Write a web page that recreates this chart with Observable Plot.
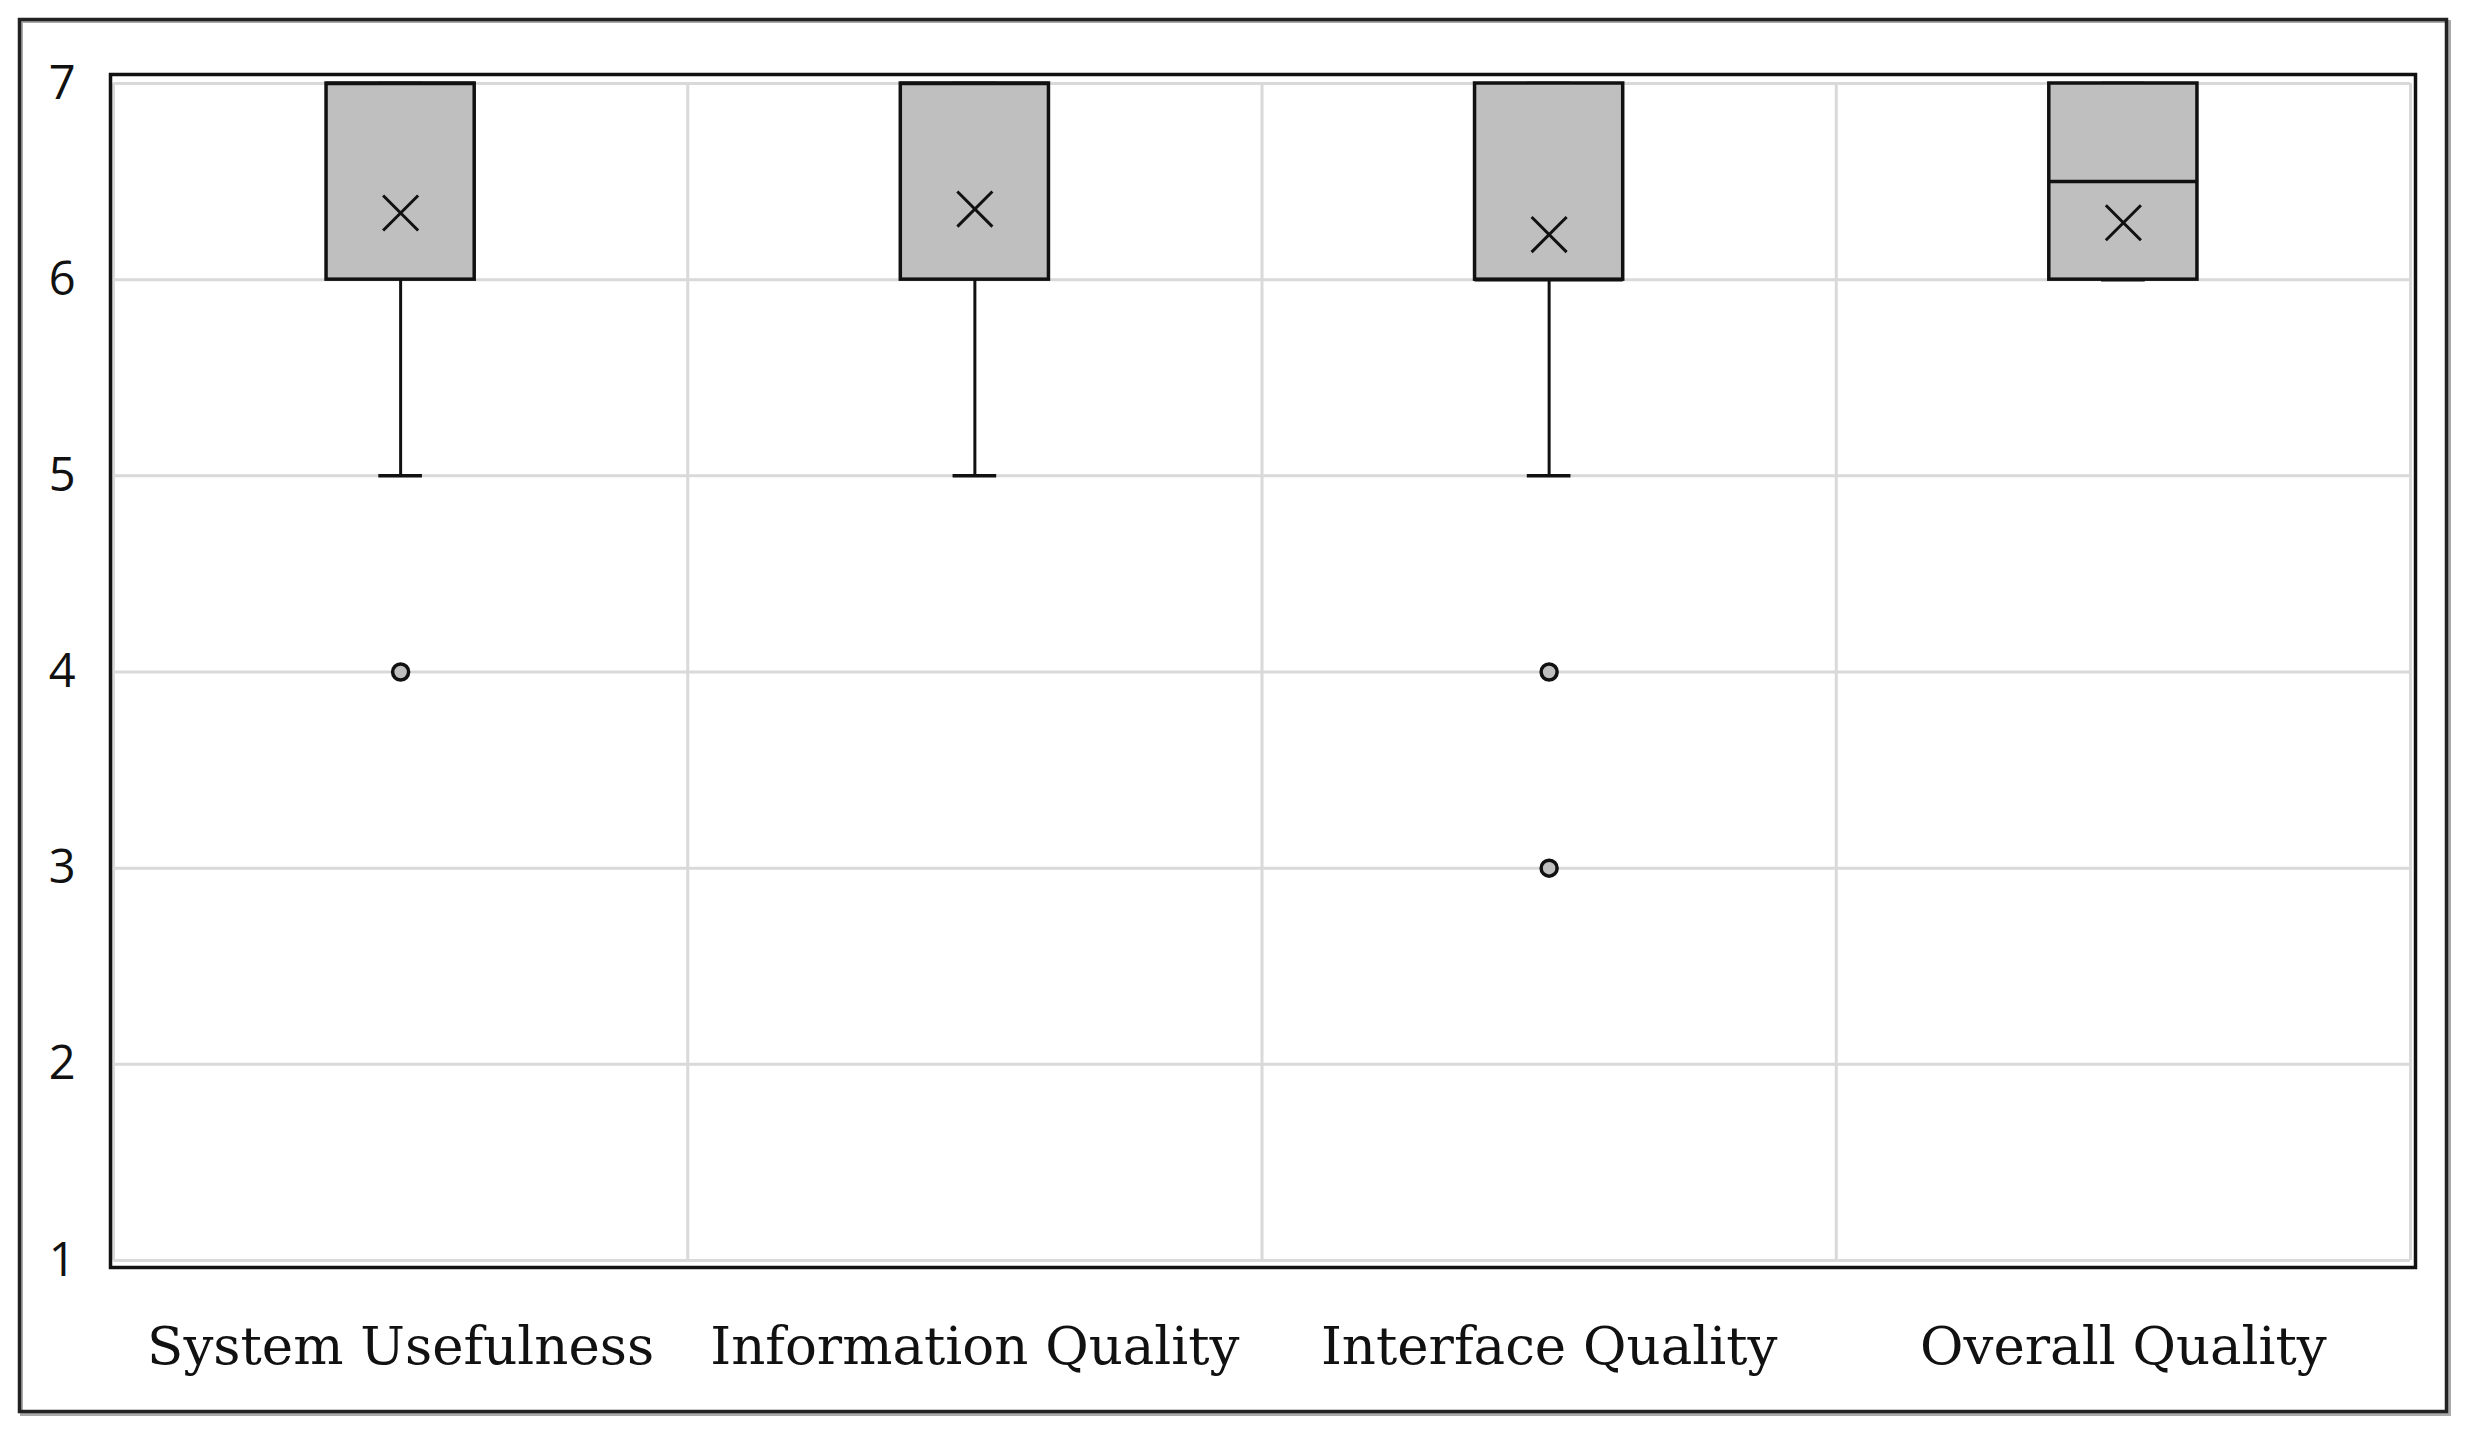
<!DOCTYPE html>
<html>
<head>
<meta charset="utf-8">
<script src="https://cdn.jsdelivr.net/npm/d3@7"></script>
<script src="https://cdn.jsdelivr.net/npm/@observablehq/plot@0.6"></script>
<style>
  html, body { margin: 0; padding: 0; background: #fff; }
  #chart svg { display: block; }
</style>
</head>
<body>
<div id="chart"></div>
<script>
// ---- data ----
const categories = ["System Usefulness", "Information Quality", "Interface Quality", "Overall Quality"];
const q1 = [6, 6, 6, 6];
const q3 = [7, 7, 7, 7];
const medians = [7, 7, 6, 6.5];
const whiskerLow = [5, 5, 5, 6];
const whiskerHigh = [7, 7, 7, 7];
const means = [6.34, 6.36, 6.23, 6.29];
const outlierCategory = ["System Usefulness", "Interface Quality", "Interface Quality"];
const outlierValue = [4, 4, 3];
const yTicks = [1, 2, 3, 4, 5, 6, 7];

// ---- build table ----
const idx = new Map(categories.map((c, i) => [c, i]));
const boxes = categories.map((c, i) => ({
  i, c, q1: q1[i], q3: q3[i], median: medians[i],
  lo: whiskerLow[i], hi: whiskerHigh[i], mean: means[i]
}));
const outliers = outlierValue.map((v, k) => ({i: idx.get(outlierCategory[k]), v}));
const bandEdges = d3.range(categories.length + 1).map(i => i - 0.5);

const HALF = 0.129;   // half box width, in band units
const CAP = 0.038;    // half whisker cap width

const chart = Plot.plot({
  width: 2470,
  height: 1440,
  marginTop: 83,
  marginBottom: 180,
  marginLeft: 113,
  marginRight: 60,
  style: {background: "#fff", color: "#111"},
  x: {domain: [-0.5, categories.length - 0.5], label: null},
  y: {domain: [1, 7], label: null},
  marks: [
    Plot.ruleY(yTicks, {stroke: "#d9d9d9", strokeWidth: 3}),
    Plot.ruleX(bandEdges, {stroke: "#d9d9d9", strokeWidth: 3}),
    // whiskers
    Plot.ruleX(boxes, {x: "i", y1: "lo", y2: "q1", stroke: "#111", strokeWidth: 3}),
    Plot.ruleX(boxes, {x: "i", y1: "q3", y2: "hi", stroke: "#111", strokeWidth: 3}),
    Plot.ruleY(boxes, {y: "lo", x1: d => d.i - CAP, x2: d => d.i + CAP, stroke: "#111", strokeWidth: 3.5}),
    Plot.ruleY(boxes, {y: "hi", x1: d => d.i - CAP, x2: d => d.i + CAP, stroke: "#111", strokeWidth: 3.5}),
    // boxes
    Plot.rect(boxes, {x1: d => d.i - HALF, x2: d => d.i + HALF, y1: "q1", y2: "q3",
      fill: "#bfbfbf", stroke: "#111", strokeWidth: 3.5}),
    Plot.ruleY(boxes, {y: "median", x1: d => d.i - HALF, x2: d => d.i + HALF, stroke: "#111", strokeWidth: 3.5}),
    // means
    Plot.dot(boxes, {x: "i", y: "mean", symbol: "times", r: 16, stroke: "#111", strokeWidth: 3}),
    // outliers
    Plot.dot(outliers, {x: "i", y: "v", r: 8, fill: "#bfbfbf", stroke: "#111", strokeWidth: 3.5}),
    // axes
    Plot.axisX({ticks: d3.range(categories.length), tickFormat: i => categories[i], label: null,
      tickSize: 0, tickPadding: 66, fontSize: 53, fontFamily: "DejaVu Serif", fill: "#111"}),
    Plot.axisY({ticks: yTicks, tickFormat: d => String(d), label: null, tickSize: 0, tickPadding: 38, fontSize: 47,
      fontFamily: "Open Sans", fill: "#111"}),
    // plot-area frame
    Plot.frame({stroke: "#111", strokeWidth: 3.5, insetTop: -9, insetBottom: -7, insetLeft: -3, insetRight: -5}),
    // outer frame (with light shadow)
    Plot.frame({stroke: "#aaa", strokeWidth: 3, insetTop: -62, insetLeft: -92, insetRight: -39, insetBottom: -154}),
    Plot.frame({stroke: "#222", strokeWidth: 3.5, insetTop: -64, insetLeft: -94, insetRight: -36, insetBottom: -151})
  ]
});
document.getElementById("chart").appendChild(chart);
</script>
</body>
</html>
